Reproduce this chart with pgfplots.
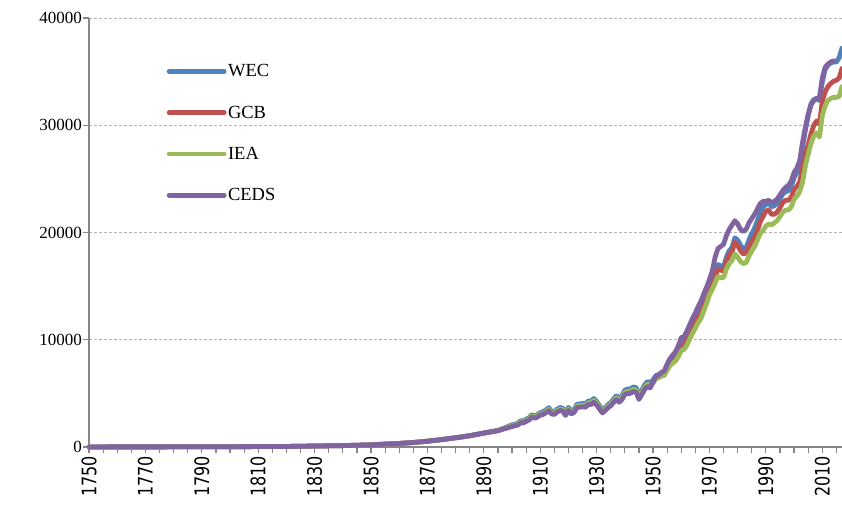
\documentclass[border=0pt]{standalone}
\usepackage{fontspec}
\setmainfont{Liberation Serif}
\newfontfamily\xfont[FakeStretch=0.8]{DejaVu Sans}
\usepackage{pgfplots}
\usepackage{pgfplotstable}
\pgfplotsset{compat=1.18}
\definecolor{cWEC}{HTML}{4F81BD}
\definecolor{cGCB}{HTML}{C0504D}
\definecolor{cIEA}{HTML}{9BBB59}
\definecolor{cCEDS}{HTML}{8064A2}
\definecolor{axgray}{HTML}{868686}
\pgfplotstableread{
year wec gcb iea ceds
1750 9 9 9 9
1760 10 10 10 10
1770 12 12 12 12
1780 15 15 15 15
1790 25 25 25 25
1800 30 30 30 30
1810 40 40 40 40
1820 50 50 50 50
1830 90 90 90 90
1840 130 130 130 130
1850 200 200 200 200
1855 270 270 270 270
1860 330 330 330 330
1865 420 420 420 420
1870 540 540 540 540
1875 690 690 690 690
1880 860 860 860 860
1885 1050 1050 1050 1050
1890 1300 1300 1300 1300
1895 1540 1530 1540 1520
1900 2070 1950 1990 1910
1901 2140 2020 2060 1980
1902 2200 2080 2120 2040
1903 2440 2300 2350 2250
1904 2440 2300 2350 2250
1905 2580 2430 2480 2380
1906 2710 2560 2610 2510
1907 3020 2850 2910 2790
1908 2890 2730 2780 2680
1909 3020 2850 2910 2790
1910 3210 3030 3090 2970
1911 3290 3100 3160 3040
1912 3450 3250 3320 3190
1913 3670 3460 3530 3390
1914 3330 3140 3200 3080
1915 3290 3100 3160 3040
1916 3530 3330 3400 3260
1917 3690 3480 3550 3410
1918 3610 3410 3480 3340
1919 3190 3010 3070 2950
1920 3700 3490 3560 3420
1921 3330 3140 3200 3080
1922 3480 3280 3350 3220
1923 4000 3770 3850 3700
1924 4000 3770 3850 3700
1925 4060 3830 3900 3750
1926 4010 3780 3860 3710
1927 4290 4050 4130 3960
1928 4280 4040 4120 3950
1929 4520 4260 4350 4180
1930 4240 4000 4080 3910
1931 3850 3630 3700 3550
1932 3430 3240 3310 3180
1933 3660 3450 3520 3380
1934 3950 3730 3810 3660
1935 4140 3910 3990 3840
1936 4490 4240 4320 4160
1937 4760 4490 4580 4410
1938 4520 4260 4350 4180
1939 4810 4540 4630 4440
1940 5300 5000 5100 4910
1941 5400 5090 5190 4980
1942 5420 5110 5220 5000
1943 5600 5280 5380 5170
1944 5530 5220 5320 5110
1945 4810 4540 4630 4440
1946 5280 4980 5080 4890
1947 5800 5470 5580 5360
1948 6100 5750 5860 5630
1949 5980 5640 5760 5520
1950 6250 5980 6000 6100
1951 6650 6400 6380 6550
1952 6760 6520 6480 6720
1953 6920 6690 6600 6940
1954 7030 6800 6680 7100
1955 7580 7350 7180 7720
1956 8050 7820 7600 8250
1957 8320 8090 7820 8580
1958 8590 8350 8030 8900
1959 9080 8830 8450 9450
1960 9750 9450 9000 10200
1961 9800 9500 9100 10300
1962 10250 9900 9500 10800
1963 10800 10450 10100 11400
1964 11400 11000 10600 12000
1965 11900 11500 11100 12500
1966 12450 12050 11600 13100
1967 12850 12400 12000 13600
1968 13500 13050 12700 14300
1969 14250 13800 13400 14900
1970 15050 14600 14200 15600
1971 15550 15100 14700 16400
1972 16200 15800 15300 17700
1973 17000 16600 15900 18500
1974 16900 16500 15800 18700
1975 16800 16400 15800 18900
1976 17700 17300 16600 19700
1977 18300 17900 17100 20300
1978 18600 18200 17400 20700
1979 19500 19100 18000 21100
1980 19300 18800 17700 20800
1981 18800 18300 17300 20300
1982 18500 18000 17100 20100
1983 18600 18100 17200 20300
1984 19300 18700 17800 20900
1985 19900 19200 18300 21300
1986 20400 19600 18700 21700
1987 21100 20200 19300 22200
1988 21900 21000 19900 22700
1989 22400 21500 20200 22900
1990 22600 22000 20600 22900
1991 22700 22100 20800 23000
1992 22400 21700 20700 22800
1993 22500 21700 20900 22900
1994 22700 21900 21100 23100
1995 23100 22300 21500 23500
1996 23600 22800 21900 23900
1997 23800 23000 22100 24200
1998 23900 23000 22100 24400
1999 24300 23300 22400 24800
2000 25100 24000 23100 25600
2001 25600 24300 23400 26000
2002 26300 24700 23800 26700
2003 28000 26000 24700 28400
2004 29500 27300 26200 29800
2005 30900 28200 27300 31000
2006 32000 29200 28300 31900
2007 32400 30000 29000 32300
2008 32500 30400 29300 32500
2009 32300 30100 28900 32600
2010 34000 32200 30900 34400
2011 35200 33100 31800 35400
2012 35600 33600 32300 35700
2013 35800 33900 32500 35900
2014 35900 34100 32600 36000
2015 35900 34200 32600 nan
2016 36300 34400 32700 nan
2017 37200 35300 33600 nan
}\datatable
\begin{document}
\begin{tikzpicture}
\begin{axis}[
  scale only axis,
  width=753pt, height=429pt,
  xmin=1750, xmax=2017,
  ymin=0, ymax=40000,
  clip=false,
  axis x line*=bottom,
  axis y line*=left,
  axis line style={-, draw=axgray, line width=1.3pt},
  xtick={1750,1770,...,2010},
  minor xtick={1755,1760,...,2015},
  ytick={0,10000,20000,30000,40000},
  tick align=outside,
  major tick length=6pt,
  minor tick length=6pt,
  every tick/.style={draw=axgray, line width=1.2pt},
  ymajorgrids,
  major grid style={densely dashed, draw=black!30, line width=0.8pt},
  scaled y ticks=false,
  /pgf/number format/assume math mode=true,
  /pgf/number format/set thousands separator={},
  yticklabel style={font=\fontsize{17}{17}\selectfont, inner sep=0pt, xshift=-1pt},
  xticklabel style={font=\xfont\fontsize{20}{20}\selectfont, rotate=90, anchor=east, inner sep=0pt, xshift=-3pt},
  xticklabel={\pgfmathprintnumber[fixed,precision=0,set thousands separator={}]{\tick}},
  legend cell align=left,
  legend style={at={(0.099,0.900)}, anchor=north west, draw=none, fill=none,
    font=\fontsize{18.5}{18.5}\selectfont, row sep=24.5pt,
    nodes={inner sep=1.5pt}},
  legend image code/.code={\draw[#1, line width=4.8pt, line cap=round] (0pt,0pt) -- (55pt,0pt);},
  every axis plot/.append style={line width=4.8pt, line cap=round, line join=round},
]
\addplot[cWEC] table[x=year, y=wec] {\datatable};
\addlegendentry{WEC}
\addplot[cGCB] table[x=year, y=gcb] {\datatable};
\addlegendentry{GCB}
\addplot[cIEA] table[x=year, y=iea] {\datatable};
\addlegendentry{IEA}
\addplot[cCEDS] table[x=year, y=ceds] {\datatable};
\addlegendentry{CEDS}
\coordinate (ll) at (rel axis cs:0,0);
\coordinate (ur) at (rel axis cs:1,1);
\end{axis}
\pgfresetboundingbox
\path ([shift={(-89pt,-59pt)}]ll) rectangle ([shift={(0pt,18pt)}]ur);
\end{tikzpicture}
\end{document}
